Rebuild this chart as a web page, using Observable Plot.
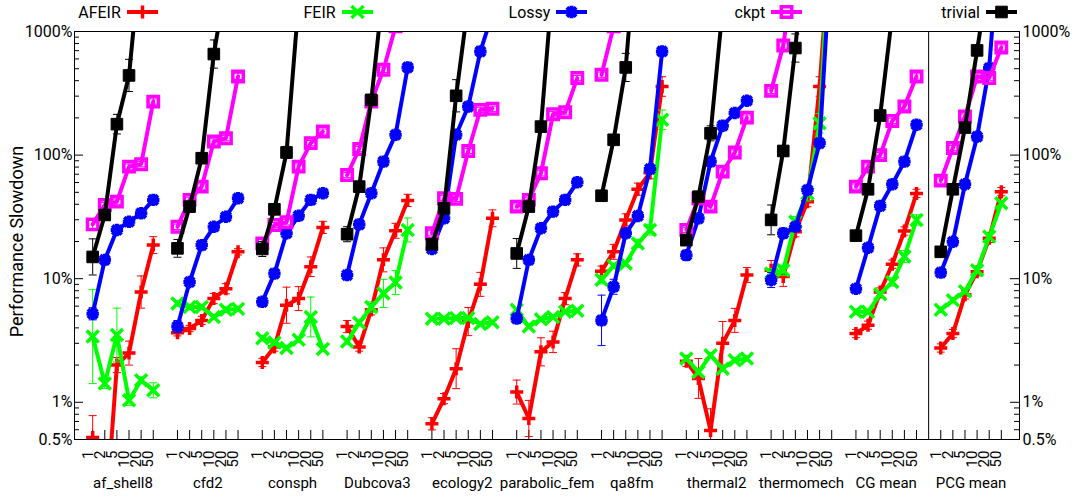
<!DOCTYPE html>
<html>
<head>
<meta charset="utf-8">
<script src="https://cdn.jsdelivr.net/npm/d3@7"></script>
<script src="https://cdn.jsdelivr.net/npm/@observablehq/plot@0.6"></script>
<style>
  body { margin: 0; background: #fff; font-family: Roboto, sans-serif; }
  #legend { position: relative; width: 1076px; height: 22px; }
  .entry { position: absolute; top: 0; height: 24px; display: flex; align-items: center; font-size: 16px; color: #000; }
  .entry svg { margin-left: 6px; }
</style>
</head>
<body>
<div id="legend"></div>
<div id="chart"></div>
<script>
// Matrices (one group of six points each) and checkpoint rates
const groups = ["af_shell8", "cfd2", "consph", "Dubcova3", "ecology2", "parabolic_fem", "qa8fm", "thermal2", "thermomech", "CG mean", "PCG mean"];
const rates = ["1", "2", "5", "10", "20", "50"];
const yMajor = [0.5, 1, 10, 100, 1000];
const yMinor = [0.6, 0.7, 0.8, 0.9, 2, 3, 4, 5, 6, 7, 8, 9, 20, 30, 40, 50, 60, 70, 80, 90, 200, 300, 400, 500, 600, 700, 800, 900];

// Slowdown in percent, six rates per matrix, matrices in the order above
const afeir = [
  0.52, 0.09, 2.0, 2.5, 7.8, 18.7,
  3.65, 3.95, 4.6, 6.9, 8.3, 16.5,
  2.1, 2.8, 6.1, 6.9, 12.5, 26,
  4.1, 2.8, 5.6, 14.2, 24.4, 43,
  0.67, 1.07, 1.87, 4.5, 9.0, 30.8,
  1.21, 0.74, 2.56, 3.08, 6.9, 14.2,
  11.5, 16.5, 29.9, 53, 72, 359,
  2.15, 1.56, 0.59, 3.0, 4.6, 10.7,
  11.7, 10.4, 24, 42, 359, 8000,
  3.6, 4.2, 7.8, 13.1, 24.3, 49,
  2.75, 3.6, 7.4, 11.4, 21.2, 50.6
];
const feir = [
  3.4, 1.42, 3.5, 1.04, 1.51, 1.25,
  6.3, 5.9, 5.9, 4.9, 5.6, 5.7,
  3.3, 3.05, 2.75, 3.2, 4.9, 2.7,
  3.1, 4.4, 5.9, 7.6, 9.3, 24.8,
  4.75, 4.75, 4.8, 4.8, 4.3, 4.45,
  5.6, 4.1, 4.7, 4.9, 5.4, 5.5,
  9.8, 12.7, 13.3, 19.3, 24.8, 193,
  2.26, 1.76, 2.4, 1.87, 2.19, 2.26,
  11.0, 11.7, 28.9, 49, 181, 10000,
  5.4, 5.4, 7.5, 9.4, 15.1, 29.9,
  5.6, 6.7, 7.9, 11.7, 21.9, 40.7
];
const lossy = [
  5.2, 14.2, 24.8, 28.9, 33.8, 43.4,
  4.1, 9.4, 18.7, 26.3, 31.7, 44.7,
  6.5, 11.0, 23.3, 32.3, 43.4, 49.1,
  10.7, 27.5, 49.1, 88.6, 146, 512,
  17.4, 30.8, 146, 247, 690, 1400,
  4.77, 14.2, 25.6, 34.9, 43.4, 60.3,
  4.6, 8.6, 23.3, 32.2, 77.3, 690,
  15.5, 30.8, 88.6, 173, 219, 275,
  9.75, 23.3, 26.3, 52.2, 125, 5500,
  8.3, 17.8, 38.8, 58.1, 88.6, 176,
  11.2, 19.9, 58.1, 141, 506, 10000
];
const ckpt = [
  27.5, 39.5, 42, 80.7, 84.4, 271,
  26.3, 43.4, 55.6, 129, 137, 433,
  19.3, 27.2, 28.6, 80.7, 125, 155,
  69, 112, 271, 490, 1100, 2500,
  23.3, 44.7, 44.2, 108, 232, 237,
  38.3, 43.4, 71.3, 214, 222, 420,
  447, 1100, 2500, 4000, 6000, 8000,
  24.8, 44.6, 38.3, 73.5, 105, 201,
  331, 771, 3700, 6000, 8000, 10000,
  55.6, 80.7, 100, 189, 247, 433,
  62.1, 114, 205, 433, 420, 743
];
const trivial = [
  15.0, 32.8, 178, 441, 4600, 20000,
  17.6, 38.3, 94.4, 657, 2500, 10000,
  17.4, 36.4, 105, 1750, 8000, 20000,
  22.9, 55.6, 280, 2300, 8000, 20000,
  19.0, 37.1, 302, 1700, 8000, 20000,
  16.0, 38.3, 170, 2700, 8000, 20000,
  46.9, 133, 512, 8000, 20000, 40000,
  20.5, 46.1, 150, 1550, 8000, 20000,
  29.9, 108, 735, 8000, 20000, 40000,
  22.3, 52.9, 209, 1380, 8000, 20000,
  16.5, 52.9, 167, 703, 3000, 10000
];

// Error bar spread as a multiplicative factor around each value
const afeirErr = [
  1.5, 1.1, 1.15, 1.25, 1.35, 1.17,
  1.06, 1.06, 1.08, 1.1, 1.1, 1.06,
  1.08, 1.08, 1.4, 1.25, 1.2, 1.12,
  1.12, 1.08, 1.1, 1.25, 1.15, 1.12,
  1.12, 1.1, 1.45, 1.3, 1.25, 1.17,
  1.25, 1.4, 1.3, 1.22, 1.12, 1.12,
  1.1, 1.15, 1.12, 1.12, 1.12, 1.2,
  1.1, 1.45, 1.5, 1.5, 1.25, 1.15,
  1.2, 1.2, 1.1, 1.1, 1.2, 1.1,
  1.08, 1.08, 1.08, 1.08, 1.08, 1.08,
  1.08, 1.08, 1.08, 1.08, 1.08, 1.08
];
const feirErr = [
  2.4, 1.1, 1.65, 1.1, 1.06, 1.15,
  1.05, 1.05, 1.05, 1.05, 1.05, 1.05,
  1.05, 1.05, 1.05, 1.05, 1.45, 1.05,
  1.05, 1.05, 1.1, 1.3, 1.25, 1.25,
  1.03, 1.03, 1.03, 1.03, 1.03, 1.03,
  1.03, 1.03, 1.03, 1.03, 1.03, 1.03,
  1.08, 1.05, 1.05, 1.08, 1.1, 1.2,
  1.05, 1.05, 1.05, 1.05, 1.05, 1.05,
  1.1, 1.1, 1.1, 1.15, 1.2, 1.1,
  1.05, 1.05, 1.05, 1.08, 1.12, 1.1,
  1.05, 1.05, 1.05, 1.05, 1.05, 1.05
];
const lossyErr = [
  1.12, 1.06, 1.06, 1.06, 1.06, 1.06,
  1.12, 1.06, 1.06, 1.06, 1.06, 1.06,
  1.08, 1.06, 1.06, 1.06, 1.06, 1.06,
  1.08, 1.06, 1.06, 1.06, 1.06, 1.06,
  1.06, 1.06, 1.06, 1.06, 1.06, 1.06,
  1.1, 1.06, 1.06, 1.06, 1.06, 1.06,
  1.6, 1.15, 1.06, 1.06, 1.06, 1.06,
  1.06, 1.06, 1.06, 1.06, 1.06, 1.06,
  1.15, 1.1, 1.06, 1.06, 1.06, 1.06,
  1.06, 1.06, 1.06, 1.06, 1.06, 1.06,
  1.06, 1.06, 1.06, 1.06, 1.06, 1.06
];
const ckptErr = [
  1.08, 1.05, 1.05, 1.05, 1.05, 1.05,
  1.05, 1.05, 1.05, 1.05, 1.05, 1.06,
  1.08, 1.05, 1.05, 1.05, 1.05, 1.05,
  1.05, 1.05, 1.05, 1.05, 1.05, 1.05,
  1.05, 1.05, 1.05, 1.05, 1.05, 1.05,
  1.05, 1.05, 1.05, 1.05, 1.05, 1.05,
  1.05, 1.05, 1.05, 1.05, 1.05, 1.05,
  1.05, 1.05, 1.05, 1.05, 1.05, 1.05,
  1.05, 1.05, 1.05, 1.05, 1.05, 1.05,
  1.05, 1.05, 1.05, 1.05, 1.05, 1.05,
  1.05, 1.05, 1.05, 1.05, 1.05, 1.05
];
const trivialErr = [
  1.4, 1.1, 1.2, 1.35, 1.1, 1.1,
  1.18, 1.1, 1.1, 1.3, 1.1, 1.1,
  1.15, 1.1, 1.12, 1.1, 1.1, 1.1,
  1.15, 1.1, 1.1, 1.1, 1.1, 1.1,
  1.06, 1.06, 1.35, 1.1, 1.1, 1.1,
  1.32, 1.1, 1.1, 1.1, 1.1, 1.1,
  1.1, 1.1, 1.3, 1.1, 1.1, 1.1,
  1.1, 1.08, 1.15, 1.1, 1.1, 1.1,
  1.32, 1.1, 1.3, 1.1, 1.1, 1.1,
  1.05, 1.05, 1.05, 1.05, 1.05, 1.05,
  1.05, 1.05, 1.05, 1.05, 1.05, 1.05
];

// Stroked point shapes; r = sqrt(size / PI) is the half extent
const rad = s => Math.sqrt(s / Math.PI);
const plusSym = {draw(c, s) { const r = rad(s); c.moveTo(-r, 0); c.lineTo(r, 0); c.moveTo(0, -r); c.lineTo(0, r); }};
const timesSym = {draw(c, s) { const r = rad(s); c.moveTo(-r, -r); c.lineTo(r, r); c.moveTo(-r, r); c.lineTo(r, -r); }};
const starSym = {draw(c, s) {
  const r = rad(s), q = r * 0.75;
  c.moveTo(-r, 0); c.lineTo(r, 0); c.moveTo(0, -r); c.lineTo(0, r);
  c.moveTo(-q, -q); c.lineTo(q, q); c.moveTo(-q, q); c.lineTo(q, -q);
}};
const squareSym = {draw(c, s) { const r = rad(s); c.rect(-r, -r, 2 * r, 2 * r); }};
const capSym = {draw(c, s) { const r = rad(s); c.moveTo(-r, 0); c.lineTo(r, 0); }};

const series = [
  {name: "AFEIR", color: "#ff0000", values: afeir, err: afeirErr, symbol: plusSym, r: 6.5, sw: 3.5, filled: false},
  {name: "FEIR", color: "#00ff00", values: feir, err: feirErr, symbol: timesSym, r: 6, sw: 3.5, filled: false},
  {name: "Lossy", color: "#0000ff", values: lossy, err: lossyErr, symbol: starSym, r: 6.2, sw: 4, filled: false},
  {name: "ckpt", color: "#ff00ff", values: ckpt, err: ckptErr, symbol: squareSym, r: 5.2, sw: 3.5, filled: false},
  {name: "trivial", color: "#000000", values: trivial, err: trivialErr, symbol: squareSym, r: 5.8, sw: 1, filled: true}
];

const perGroup = rates.length;
const stride = perGroup + 1;              // one empty slot between matrices
const nSlots = groups.length * stride - 1;
const slots = d3.range(groups.length).flatMap(g => d3.range(perGroup).map(k => ({slot: g * stride + k, label: rates[k]})));
const separator = (groups.length - 1) * stride - 1; // line before the PCG mean group

const W = 1076, H = 476;
const mTop = 9, mRight = 57, mBottom = 59, mLeft = 74;
const plotW = W - mLeft - mRight;
const plotH = H - mTop - mBottom;

const seriesMarks = series.flatMap(s => {
  const rows = s.values.map((v, i) => ({
    group: Math.floor(i / perGroup),
    slot: Math.floor(i / perGroup) * stride + (i % perGroup),
    v, lo: v / s.err[i], hi: v * s.err[i]
  }));
  return [
    Plot.line(rows, {x: "slot", y: "v", z: "group", stroke: s.color, strokeWidth: 4, strokeLinejoin: "round", clip: true}),
    Plot.ruleX(rows, {x: "slot", y1: "lo", y2: "hi", stroke: s.color, strokeWidth: 1, clip: true}),
    Plot.dot(rows, {x: "slot", y: "lo", symbol: capSym, r: 4, stroke: s.color, strokeWidth: 1, clip: true}),
    Plot.dot(rows, {x: "slot", y: "hi", symbol: capSym, r: 4, stroke: s.color, strokeWidth: 1, clip: true}),
    Plot.dot(rows, {x: "slot", y: "v", symbol: s.symbol, r: s.r,
      fill: s.filled ? s.color : "none", stroke: s.color, strokeWidth: s.sw, clip: true})
  ];
});

const pct = d => d + "%";

const chart = Plot.plot({
  width: W,
  height: H,
  marginTop: mTop,
  marginRight: mRight,
  marginBottom: mBottom,
  marginLeft: mLeft,
  style: {fontFamily: "Roboto, sans-serif", fontSize: "16px", color: "#000", background: "#fff"},
  x: {type: "linear", domain: [-1.5, nSlots + 0.5], axis: null},
  y: {type: "log", domain: [0.5, 1000], axis: null},
  marks: [
    // y ticks, drawn inward on both sides
    Plot.ruleY(yMajor, {stroke: "#000", insetRight: plotW - 9}),
    Plot.ruleY(yMinor, {stroke: "#000", insetRight: plotW - 5}),
    Plot.ruleY(yMajor, {stroke: "#000", insetLeft: plotW - 9}),
    Plot.ruleY(yMinor, {stroke: "#000", insetLeft: plotW - 5}),
    // x ticks, inward from the bottom
    Plot.ruleX(slots, {x: "slot", stroke: "#000", insetTop: plotH - 9}),
    Plot.ruleX([separator], {stroke: "#000", strokeWidth: 1}),
    // tick labels on both y sides
    Plot.text(yMajor, {y: d => d, text: pct, frameAnchor: "left", textAnchor: "end", dx: -2, fontSize: 16}),
    Plot.text(yMajor, {y: d => d, text: pct, frameAnchor: "right", textAnchor: "start", dx: 3, fontSize: 16}),
    Plot.text(slots, {x: "slot", text: "label", frameAnchor: "bottom", rotate: -90, textAnchor: "end", dy: 11, fontSize: 15}),
    Plot.text(groups, {x: (d, i) => i * stride + (perGroup - 1) / 2, text: d => d, frameAnchor: "bottom", dy: 48, fontSize: 15}),
    Plot.text(["Performance Slowdown"], {frameAnchor: "left", textAnchor: "middle", dx: -57, dy: 6, rotate: -90, fontSize: 18}),
    ...seriesMarks,
    Plot.frame({stroke: "#000", strokeWidth: 1})
  ]
});
document.getElementById("chart").appendChild(chart);

// Legend row above the plot
const legend = d3.select("#legend");
const legendStep = 214.8;
const plotRight = W - mRight;
series.forEach((s, i) => {
  const right = plotRight - 2 - (series.length - 1 - i) * legendStep;
  const entry = legend.append("div").attr("class", "entry").style("right", (W - right) + "px");
  entry.append("span").text(s.name);
  const sw = entry.append("svg").attr("width", 31).attr("height", 18);
  sw.append("line").attr("x1", 0).attr("x2", 31).attr("y1", 9).attr("y2", 9)
    .attr("stroke", s.color).attr("stroke-width", 4);
  const p = d3.path();
  s.symbol.draw(p, Math.PI * s.r * s.r);
  sw.append("path").attr("d", p.toString()).attr("transform", "translate(15.5,9)")
    .attr("fill", s.filled ? s.color : "none").attr("stroke", s.color).attr("stroke-width", s.sw);
});
</script>
</body>
</html>
